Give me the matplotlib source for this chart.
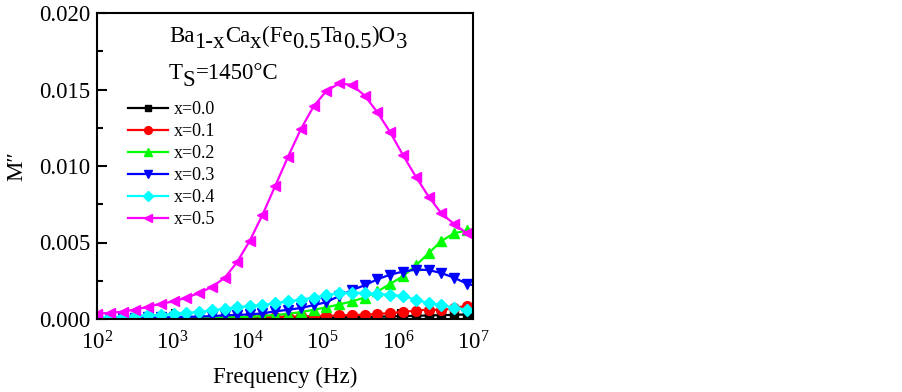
# M'' vs frequency, Ba1-xCax(Fe0.5Ta0.5)O3

import matplotlib
matplotlib.use('Agg')
import matplotlib.pyplot as plt
from matplotlib.ticker import MultipleLocator, FormatStrFormatter, LogLocator

plt.rcParams['font.family'] = ['Liberation Serif', 'DejaVu Serif']
plt.rcParams['mathtext.fontset'] = 'custom'
plt.rcParams['mathtext.rm'] = 'Liberation Serif'
plt.rcParams['mathtext.it'] = 'Liberation Serif:italic'

# -------------------------------
# Data
# -------------------------------
freq = [100, 148, 219, 324, 479, 708, 1047, 1549, 2291, 3388, 5012, 7244,
        10715, 15849, 23442, 34674, 51286, 75858, 112202, 165959, 245471,
        363078, 537032, 794328, 1174898, 1737801, 2570396, 3801894,
        5623413, 8317638, 12302688]

labels = ['x=0.0', 'x=0.1', 'x=0.2', 'x=0.3', 'x=0.4', 'x=0.5']

m_x00 = [0.00001, 0.00001, 0.00001, 0.00001, 0.00002, 0.00002, 0.00002, 0.00003,
         0.00003, 0.00003, 0.00004, 0.00004, 0.00005, 0.00005, 0.00006, 0.00007,
         0.00008, 0.00009, 0.0001, 0.00011, 0.00012, 0.00013, 0.00015, 0.00017,
         0.00019, 0.00021, 0.00023, 0.00025, 0.00027, 0.0003, 0.00032]
m_x01 = [0.00002, 0.00002, 0.00003, 0.00003, 0.00004, 0.00004, 0.00005, 0.00005,
         0.00006, 0.00007, 0.00008, 0.00009, 0.0001, 0.00011, 0.00013, 0.00015,
         0.00017, 0.00019, 0.00021, 0.00023, 0.00026, 0.00028, 0.00033, 0.00038,
         0.00047, 0.00054, 0.00062, 0.00058, 0.0007, 0.00088, 0.0009]
m_x02 = [0.00003, 0.00003, 0.00004, 0.00004, 0.00005, 0.00005, 0.00006, 0.00007,
         0.00008, 0.00009, 0.0001, 0.00012, 0.00014, 0.0002, 0.00026, 0.00034,
         0.00045, 0.0006, 0.00076, 0.00095, 0.00115, 0.0014, 0.0018, 0.0023,
         0.0028, 0.0035, 0.0043, 0.0051, 0.0056, 0.0058, 0.0059]
m_x03 = [0.00005, 0.00006, 0.00007, 0.00008, 0.0001, 0.00011, 0.00012, 0.00014,
         0.00016, 0.00019, 0.00024, 0.00027, 0.0003, 0.00037, 0.0005, 0.0006,
         0.00072, 0.0009, 0.0011, 0.0015, 0.0019, 0.0022, 0.0026, 0.0029,
         0.0031, 0.00323, 0.0032, 0.003, 0.0027, 0.0023, 0.0021]
m_x04 = [0.00012, 0.00013, 0.00016, 0.0002, 0.00023, 0.00027, 0.00033, 0.0004,
         0.00047, 0.00057, 0.00068, 0.00077, 0.00083, 0.00092, 0.00103, 0.00115,
         0.00126, 0.0014, 0.00155, 0.0017, 0.00172, 0.0017, 0.00165, 0.00157,
         0.0015, 0.00125, 0.00105, 0.0009, 0.00075, 0.0006, 0.0005]
m_x05 = [0.00035, 0.0004, 0.00048, 0.00062, 0.0008, 0.001, 0.00115, 0.0014,
         0.0017, 0.0021, 0.0027, 0.0037, 0.0051, 0.0068, 0.0087, 0.0106,
         0.0124, 0.0139, 0.0149, 0.0154, 0.0153, 0.0146, 0.0135, 0.0122,
         0.0107, 0.0093, 0.0080, 0.0069, 0.0062, 0.0056, 0.0050]

series = [m_x00, m_x01, m_x02, m_x03, m_x04, m_x05]
colors = ['#000000', '#ff0000', '#00ff00', '#0000ff', '#00ffff', '#ff00ff']
markers = ['s', 'o', '^', 'v', 'D', '<']
msizes = [6, 7, 7.5, 7.5, 6.5, 7.5]

# -------------------------------
# Plot
# -------------------------------
W, H = 903, 392
fig = plt.figure(figsize=(W / 100, H / 100), dpi=100)
ax = fig.add_axes([97 / W, 1 - 319 / H, 376 / W, 306 / H])

for y, c, mk, ms, lab in zip(series, colors, markers, msizes, labels):
    ax.plot(freq, y, color=c, marker=mk, markersize=ms, markeredgecolor=c,
            linewidth=1.6, label=lab)

ax.set_xscale('log')
ax.set_xlim(1e2, 1e7)
ax.set_ylim(0, 0.020)
ax.yaxis.set_major_locator(MultipleLocator(0.005))
ax.yaxis.set_minor_locator(MultipleLocator(0.0025))
ax.yaxis.set_major_formatter(FormatStrFormatter('%.3f'))
ax.xaxis.set_major_locator(LogLocator(base=10, numticks=10))

for sp in ax.spines.values():
    sp.set_linewidth(1.5)
ax.tick_params(which='both', direction='in', top=False, right=False,
               labelsize=16.5, width=1.5)
ax.tick_params(which='major', length=7)
ax.tick_params(which='minor', length=4)
ax.tick_params(axis='x', pad=9)
ax.tick_params(axis='y', pad=5)

ax.set_xlabel('Frequency (Hz)', fontsize=16.5, labelpad=9)
ax.set_ylabel('M\u2033', fontsize=16.5, labelpad=8)

leg = ax.legend(loc='upper left', bbox_to_anchor=(0.083, 0.712), frameon=False,
                fontsize=13, handlelength=2.2, handletextpad=0.3,
                labelspacing=0.28, borderpad=0, borderaxespad=0,
                markerscale=0.8)

# composition text with full-size, lowered subscripts
renderer = fig.canvas.get_renderer()


def draw_parts(x_px, y_px, parts, size=16.5):
    x = x_px
    for s, sub in parts:
        yy = y_px + (6.5 if sub else 0)
        t = fig.text(x / W, 1 - yy / H, s, fontsize=size, ha='left', va='baseline')
        x += t.get_window_extent(renderer).width


draw_parts(169, 42, [('Ba', 0), ('1-x', 1), ('Ca', 0), ('x', 1), ('(Fe', 0),
                     ('0.5', 1), ('Ta', 0), ('0.5', 1), (')O', 0), ('3', 1)])
draw_parts(169, 79, [('T', 0), ('S', 1), ('=1450\u00b0C', 0)])

fig.savefig('out.png', dpi=100)
